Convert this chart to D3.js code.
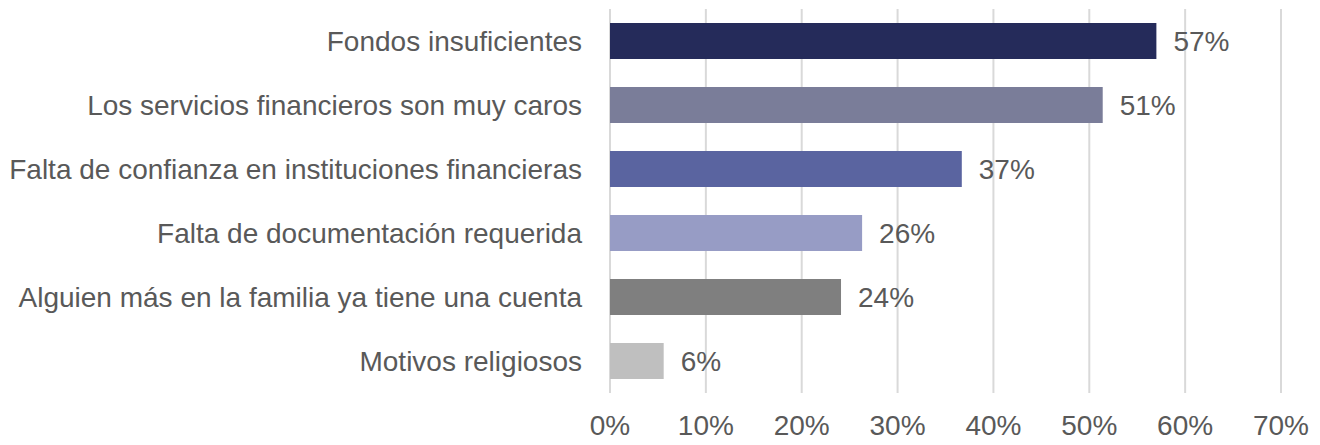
<!DOCTYPE html>
<html><head><meta charset="utf-8">
<script src="https://cdn.jsdelivr.net/npm/d3@7"></script>
<style>body{margin:0;background:#fff}svg{display:block}text{font-family:"Liberation Sans",Arial,sans-serif;fill:#595959}</style>
</head><body><svg id="c" width="1320" height="445"></svg>
<script>
const categories = ["Fondos insuficientes","Los servicios financieros son muy caros","Falta de confianza en instituciones financieras","Falta de documentación requerida","Alguien más en la familia ya tiene una cuenta","Motivos religiosos"];
const values = [57.0, 51.4, 36.7, 26.3, 24.1, 5.6];
const valueLabels = ["57%","51%","37%","26%","24%","6%"];
const colors = ["#252b5a","#7a7d99","#5a64a0","#979cc5","#7f7f7f","#bfbfbf"];
const ticks = [0,10,20,30,40,50,60,70];

const svg = d3.select("#c");
const x = d3.scaleLinear().domain([0,70]).range([610,1281]);
const y = d3.scaleBand().domain(categories).range([9,393]).paddingInner(0.4375).paddingOuter(0.21875);

svg.append("g").selectAll("line").data(ticks).join("line")
  .attr("x1",d=>x(d)).attr("x2",d=>x(d)).attr("y1",9).attr("y2",393)
  .attr("stroke","#d9d9d9").attr("stroke-width",2);

svg.append("g").selectAll("rect").data(categories).join("rect")
  .attr("x",x(0)).attr("y",d=>y(d)).attr("height",y.bandwidth())
  .attr("width",(d,i)=>x(values[i])-x(0)).attr("fill",(d,i)=>colors[i]);

svg.append("g").selectAll("text").data(categories).join("text")
  .attr("x",582).attr("y",d=>y(d)+y.bandwidth()/2).attr("dy","0.35em")
  .attr("text-anchor","end").attr("font-size",28).text(d=>d);

svg.append("g").selectAll("text").data(categories).join("text")
  .attr("x",(d,i)=>x(values[i])+17).attr("y",d=>y(d)+y.bandwidth()/2).attr("dy","0.35em")
  .attr("font-size",28).text((d,i)=>valueLabels[i]);

svg.append("g").selectAll("text").data(ticks).join("text")
  .attr("x",d=>x(d)).attr("y",425).attr("dy","0.35em").attr("text-anchor","middle")
  .attr("font-size",28).text(d=>d+"%");
</script></body></html>
